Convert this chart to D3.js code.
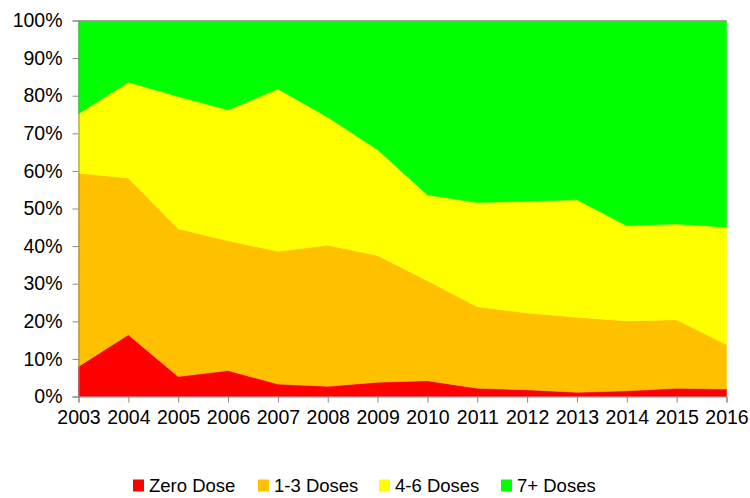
<!DOCTYPE html>
<html><head><meta charset="utf-8">
<script src="https://cdn.jsdelivr.net/npm/d3@7"></script>
<style>body{margin:0;background:#fff}svg{display:block}text{font-family:"Liberation Sans",Arial,sans-serif;fill:#000}</style>
</head><body>
<svg id="c" width="750" height="498"></svg>
<script>
const years = [2003,2004,2005,2006,2007,2008,2009,2010,2011,2012,2013,2014,2015,2016];
const zeroDose = [8.0,16.4,5.3,6.9,3.3,2.7,3.8,4.2,2.2,1.8,1.1,1.5,2.2,2.0];
const doses1to3 = [51.4,41.7,39.3,34.5,35.3,37.5,33.7,26.6,21.7,20.4,20.0,18.6,18.2,11.8];
const doses4to6 = [15.8,25.5,35.2,34.8,43.2,34.1,28.1,22.8,27.7,29.7,31.2,25.3,25.5,31.2];
const doses7plus = [24.8,16.4,20.2,23.8,18.2,25.7,34.4,46.4,48.4,48.1,47.7,54.6,54.1,55.0];
const seriesNames = ["Zero Dose","1-3 Doses","4-6 Doses","7+ Doses"];
const seriesColors = ["#ff0000","#ffc000","#ffff00","#00ff00"];
const yTicks = [0,0.1,0.2,0.3,0.4,0.5,0.6,0.7,0.8,0.9,1.0];

const svg = d3.select("#c");
const m = {l:78.5, r:726.5, t:20.5, b:396.5};
const x = d3.scaleLinear().domain([years[0], years[years.length-1]]).range([m.l, m.r]);
const y = d3.scaleLinear().domain([0,1]).range([m.b, m.t]);

const allSeries = [zeroDose, doses1to3, doses4to6, doses7plus];
const table = years.map((yr,i)=>{
  const tot = allSeries.reduce((s,a)=>s+a[i],0);
  const o = {year:yr};
  seriesNames.forEach((n,k)=>o[n]=allSeries[k][i]/tot);
  return o;
});
const stack = d3.stack().keys(seriesNames)(table);
const area = d3.area().x(d=>x(d.data.year)).y0(d=>y(d[0])).y1(d=>y(d[1]));

svg.append("g").selectAll("path").data(stack).join("path")
  .attr("d", area).attr("fill",(d,i)=>seriesColors[i]).attr("stroke",(d,i)=>seriesColors[i]).attr("stroke-width",0.5);

// top border
svg.append("line").attr("x1",m.l).attr("x2",m.r).attr("y1",m.t).attr("y2",m.t).attr("stroke","#a0a0a0").attr("stroke-width",1);

const yAxis = svg.append("g").attr("transform",`translate(${m.l},0)`)
  .call(d3.axisLeft(y).tickValues(yTicks).tickFormat(d3.format(".0%")).tickSize(6).tickPadding(10));
const xAxis = svg.append("g").attr("transform",`translate(0,${m.b})`)
  .call(d3.axisBottom(x).tickValues(years).tickFormat(d3.format("d")).tickSize(6).tickPadding(8));
[yAxis,xAxis].forEach(a=>{
  a.selectAll(".domain,line").attr("stroke","#888");
  a.selectAll("text").style("font-size","19.5px").attr("fill","#000");
});

const legendX = [133,258,379,501];
const lg = svg.append("g");
seriesNames.forEach((n,i)=>{
  lg.append("rect").attr("x",legendX[i]).attr("y",479.5).attr("width",11).attr("height",12).attr("fill",seriesColors[i]);
  lg.append("text").attr("x",legendX[i]+16).attr("y",492).style("font-size","18.5px").text(n);
});
</script>
</body></html>
